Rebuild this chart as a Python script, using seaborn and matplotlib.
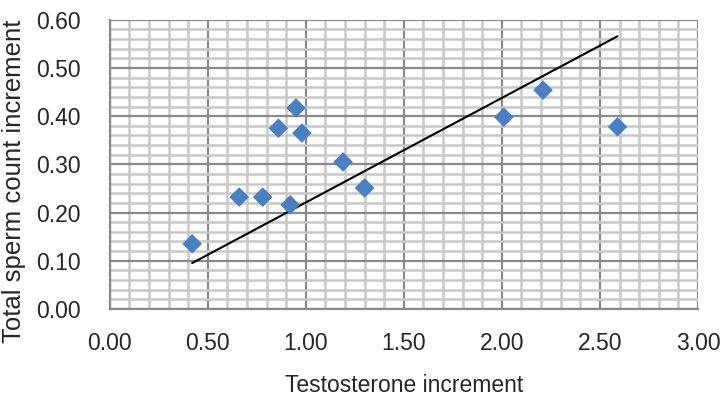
import matplotlib
matplotlib.use("Agg")
import matplotlib.pyplot as plt
import seaborn as sns
import pandas as pd
from matplotlib.ticker import MultipleLocator, FormatStrFormatter

testosterone = [0.42, 0.66, 0.78, 0.86, 0.95, 0.98, 0.92, 1.19, 1.30, 2.01, 2.21, 2.59]
sperm = [0.135, 0.232, 0.232, 0.375, 0.417, 0.365, 0.216, 0.305, 0.251, 0.398, 0.454, 0.378]
trend_x = [0.42, 2.59]
trend_y = [0.095, 0.566]

sns.set_style("white")
plt.rcParams['font.family'] = ['Liberation Sans', 'DejaVu Sans']

fig = plt.figure(figsize=(7.27, 3.97), dpi=100)
ax = fig.add_axes([0.151, 0.222, 0.809, 0.728])

df = pd.DataFrame({"x": testosterone, "y": sperm})
tdf = pd.DataFrame({"x": trend_x, "y": trend_y})

sns.lineplot(data=tdf, x="x", y="y", ax=ax, color="black", linewidth=1.5, zorder=3)
sns.scatterplot(data=df, x="x", y="y", ax=ax, marker="D", s=100, color="#4a7fc1",
                edgecolor="none", zorder=4)

ax.set_xlim(0, 3.0)
ax.set_ylim(0, 0.60)
ax.xaxis.set_major_locator(MultipleLocator(0.5))
ax.xaxis.set_minor_locator(MultipleLocator(0.1))
ax.yaxis.set_major_locator(MultipleLocator(0.1))
ax.yaxis.set_minor_locator(MultipleLocator(0.02))
ax.xaxis.set_major_formatter(FormatStrFormatter("%.2f"))
ax.yaxis.set_major_formatter(FormatStrFormatter("%.2f"))

ax.grid(which="minor", color="#c8c8c8", linewidth=1.8, zorder=0)
ax.grid(which="major", color="#8a8a8a", linewidth=1.6, zorder=1)
ax.set_axisbelow(True)

for s in ["top", "right"]:
    ax.spines[s].set_visible(False)
for s in ["left", "bottom"]:
    ax.spines[s].set_color("#8a8a8a")
    ax.spines[s].set_linewidth(1.6)

ax.tick_params(axis="both", which="major", length=6, width=1.6, color="#8a8a8a",
               labelsize=16.5, labelcolor="#262626", direction="out")
ax.tick_params(axis="both", which="minor", length=0)
ax.tick_params(axis="x", pad=11)
ax.tick_params(axis="y", pad=15)

ax.set_xlabel("Testosterone increment", fontsize=16.5, color="#262626", labelpad=13)
ax.set_ylabel("Total sperm count increment", fontsize=18.5, color="#262626",
              va="center", ha="center")
ax.yaxis.set_label_coords(-0.162, 0.44)

fig.savefig("out.png", dpi=100)
